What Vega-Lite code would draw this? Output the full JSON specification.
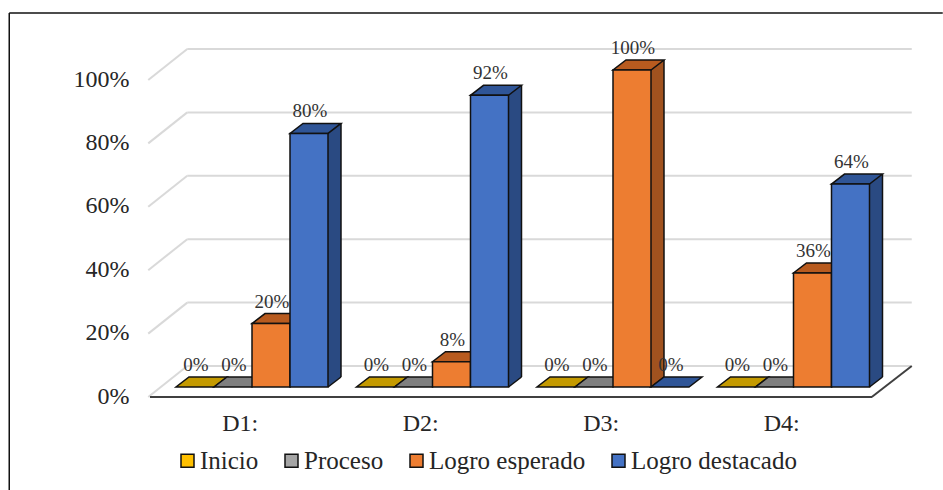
{
"$schema":"https://vega.github.io/schema/vega-lite/v6.json",
"width":722,"height":317,
"autosize":{"type":"none"},
"padding":{"left":150,"top":70,"right":71,"bottom":103},
"background":"white",
"config":{"view":{"stroke":null},"font":"Liberation Serif",
"axis":{"domain":false,"ticks":false,"grid":false,"labelFont":"Liberation Serif","labelFontSize":24,"labelColor":"#262626"},
"axisX":{"labelAngle":0,"labelPadding":24},
"axisY":{"labelPadding":21,"labelOffset":9}},
"datasets":{
"bars":[
{"dim":"D1:","nivel":"Inicio","valor":0},{"dim":"D1:","nivel":"Proceso","valor":0},{"dim":"D1:","nivel":"Logro esperado","valor":0.2},{"dim":"D1:","nivel":"Logro destacado","valor":0.8},
{"dim":"D2:","nivel":"Inicio","valor":0},{"dim":"D2:","nivel":"Proceso","valor":0},{"dim":"D2:","nivel":"Logro esperado","valor":0.08},{"dim":"D2:","nivel":"Logro destacado","valor":0.92},
{"dim":"D3:","nivel":"Inicio","valor":0},{"dim":"D3:","nivel":"Proceso","valor":0},{"dim":"D3:","nivel":"Logro esperado","valor":1},{"dim":"D3:","nivel":"Logro destacado","valor":0},
{"dim":"D4:","nivel":"Inicio","valor":0},{"dim":"D4:","nivel":"Proceso","valor":0},{"dim":"D4:","nivel":"Logro esperado","valor":0.36},{"dim":"D4:","nivel":"Logro destacado","valor":0.64}
],
"grid":[{"tick":0},{"tick":0.2},{"tick":0.4},{"tick":0.6},{"tick":0.8},{"tick":1}]
},
"layer":[
{"data":{"name":"grid"},"mark":{"type":"rule","stroke":"#d9d9d9","strokeWidth":2,"xOffset":-53,"x2Offset":130,"yOffset":-21},
 "encoding":{"x":{"datum":"D1:","type":"nominal","title":null,"scale":{"type":"band","domain":["D1:","D2:","D3:","D4:"],"paddingInner":0,"paddingOuter":0}},"x2":{"datum":"D4:"},
 "y":{"field":"tick","type":"quantitative","title":null,"scale":{"domain":[0,1],"nice":false}}}},
{"data":{"name":"grid"},"mark":{"type":"point","filled":false,"shape":"M-92,10 L-53,-21","size":4,"stroke":"#d9d9d9","strokeWidth":2,"opacity":1},
 "encoding":{"x":{"datum":"D1:","type":"nominal","title":null},"y":{"field":"tick","type":"quantitative","title":null}}},
{"data":{"values":[{"tick":0}]},"mark":{"type":"rule","stroke":"#404040","strokeWidth":2,"yOffset":10},
 "encoding":{"y":{"field":"tick","type":"quantitative","title":null}}},
{"data":{"values":[{"tick":0}]},"mark":{"type":"point","filled":false,"shape":"M90,10 L130,-21","size":4,"stroke":"#404040","strokeWidth":2,"opacity":1},
 "encoding":{"x":{"datum":"D4:","type":"nominal","title":null},"y":{"field":"tick","type":"quantitative","title":null}}},
{"data":{"values":[{"tick":1}]},"mark":{"type":"rule","stroke":"#111111","strokeWidth":1.5,"yOffset":-57,"xOffset":-231,"x2Offset":161},
 "encoding":{"x":{"datum":"D1:","type":"nominal","title":null},"x2":{"datum":"D4:"},"y":{"field":"tick","type":"quantitative","title":null}}},
{"data":{"values":[{"tick":1}]},"mark":{"type":"rule","stroke":"#111111","strokeWidth":1.5,"xOffset":-231,"yOffset":-57,"y2Offset":103},
 "encoding":{"x":{"datum":"D1:","type":"nominal","title":null},"y":{"field":"tick","type":"quantitative","title":null},"y2":{"datum":0}}},
{"data":{"name":"bars"},"transform":[{"filter":"datum.valor > 0"}],"mark":{"type":"rule","strokeWidth":13,"yOffset":-10,"y2Offset":-10},
 "encoding":{"x":{"field":"dim","type":"nominal","title":null},"xOffset":{"field":"nivel","type":"nominal","scale":{"type":"band","domain":["Inicio","Proceso","Logro esperado","Logro destacado"],"range":[51.5,203.5],"paddingInner":0,"paddingOuter":0}},
 "y":{"field":"valor","type":"quantitative","title":null},"y2":{"datum":0},
 "stroke":{"field":"nivel","type":"nominal","legend":null,"scale":{"domain":["Inicio","Proceso","Logro esperado","Logro destacado"],"range":["#9c7900","#6f6f6f","#a0521f","#2a4a82"]}}}},
{"data":{"name":"bars"},"transform":[{"filter":"datum.valor > 0"}],"mark":{"type":"point","filled":true,"shape":"M19,0 L32,-10 L19,-10 Z","size":4,"opacity":1,"stroke":null},
 "encoding":{"x":{"field":"dim","type":"nominal","title":null},"xOffset":{"field":"nivel","type":"nominal","scale":{"type":"band","domain":["Inicio","Proceso","Logro esperado","Logro destacado"],"range":[26,178],"paddingInner":0,"paddingOuter":0}},
 "y":{"datum":0,"type":"quantitative","title":null},
 "fill":{"field":"nivel","type":"nominal","legend":null,"scale":{"domain":["Inicio","Proceso","Logro esperado","Logro destacado"],"range":["#9c7900","#6f6f6f","#a0521f","#2a4a82"]}}}},
{"data":{"name":"bars"},"transform":[{"filter":"datum.valor > 0"}],"mark":{"type":"point","filled":false,"shape":"M19,0 L32,-10","size":4,"opacity":1,"stroke":"#111111","strokeWidth":1.5},
 "encoding":{"x":{"field":"dim","type":"nominal","title":null},"xOffset":{"field":"nivel","type":"nominal","scale":{"type":"band","domain":["Inicio","Proceso","Logro esperado","Logro destacado"],"range":[26,178],"paddingInner":0,"paddingOuter":0}},
 "y":{"datum":0,"type":"quantitative","title":null}}},
{"data":{"name":"bars"},"transform":[{"filter":"datum.valor > 0"}],"mark":{"type":"rule","stroke":"#111111","strokeWidth":1.5,"yOffset":-10,"y2Offset":-10},
 "encoding":{"x":{"field":"dim","type":"nominal","title":null},"xOffset":{"field":"nivel","type":"nominal","scale":{"type":"band","domain":["Inicio","Proceso","Logro esperado","Logro destacado"],"range":[58,210],"paddingInner":0,"paddingOuter":0}},
 "y":{"field":"valor","type":"quantitative","title":null},"y2":{"datum":0}}},
{"data":{"name":"bars"},"mark":{"type":"point","filled":true,"shape":"M-19,0 L19,0 L32,-10 L-6,-10 Z","size":4,"opacity":1,"stroke":"#111111","strokeWidth":1.5},
 "encoding":{"x":{"field":"dim","type":"nominal","title":null},"xOffset":{"field":"nivel","type":"nominal","scale":{"type":"band","domain":["Inicio","Proceso","Logro esperado","Logro destacado"],"range":[26,178],"paddingInner":0,"paddingOuter":0}},
 "y":{"field":"valor","type":"quantitative","title":null},
 "fill":{"field":"nivel","type":"nominal","legend":null,"scale":{"domain":["Inicio","Proceso","Logro esperado","Logro destacado"],"range":["#c49a00","#7f7f7f","#b85b1f","#2f5597"]}}}},
{"data":{"name":"bars"},"transform":[{"filter":"datum.valor > 0"}],"mark":{"type":"bar","stroke":"#111111","strokeWidth":1.5},
 "encoding":{"x":{"field":"dim","type":"nominal","title":null},"xOffset":{"field":"nivel","type":"nominal","scale":{"type":"band","domain":["Inicio","Proceso","Logro esperado","Logro destacado"],"range":[26,178],"paddingInner":0,"paddingOuter":0}},
 "y":{"field":"valor","type":"quantitative","title":null,"axis":{"values":[0,0.2,0.4,0.6,0.8,1],"format":".0%"}},
 "fill":{"field":"nivel","type":"nominal","title":null,"scale":{"domain":["Inicio","Proceso","Logro esperado","Logro destacado"],"range":["#ffc000","#a5a5a5","#ed7d31","#4472c4"]},
  "legend":{"orient":"none","legendX":25,"legendY":378,"direction":"horizontal","columns":4,"symbolType":"square","symbolSize":169,"symbolStrokeColor":"#111111","symbolStrokeWidth":1.5,"labelFont":"Liberation Serif","labelFontSize":25,"labelColor":"#262626","labelOffset":0,"columnPadding":20,"labelLimit":300}}}},
{"data":{"name":"bars"},"mark":{"type":"text","font":"Liberation Serif","fontSize":19,"fill":"#333333","dy":-22,"dx":1},
 "encoding":{"x":{"field":"dim","type":"nominal","title":null},"xOffset":{"field":"nivel","type":"nominal","scale":{"type":"band","domain":["Inicio","Proceso","Logro esperado","Logro destacado"],"range":[26,178],"paddingInner":0,"paddingOuter":0}},
 "y":{"field":"valor","type":"quantitative","title":null},"text":{"field":"valor","type":"quantitative","format":".0%"}}}
],
"resolve":{"scale":{"fill":"independent","stroke":"independent","xOffset":"independent"}}
}
